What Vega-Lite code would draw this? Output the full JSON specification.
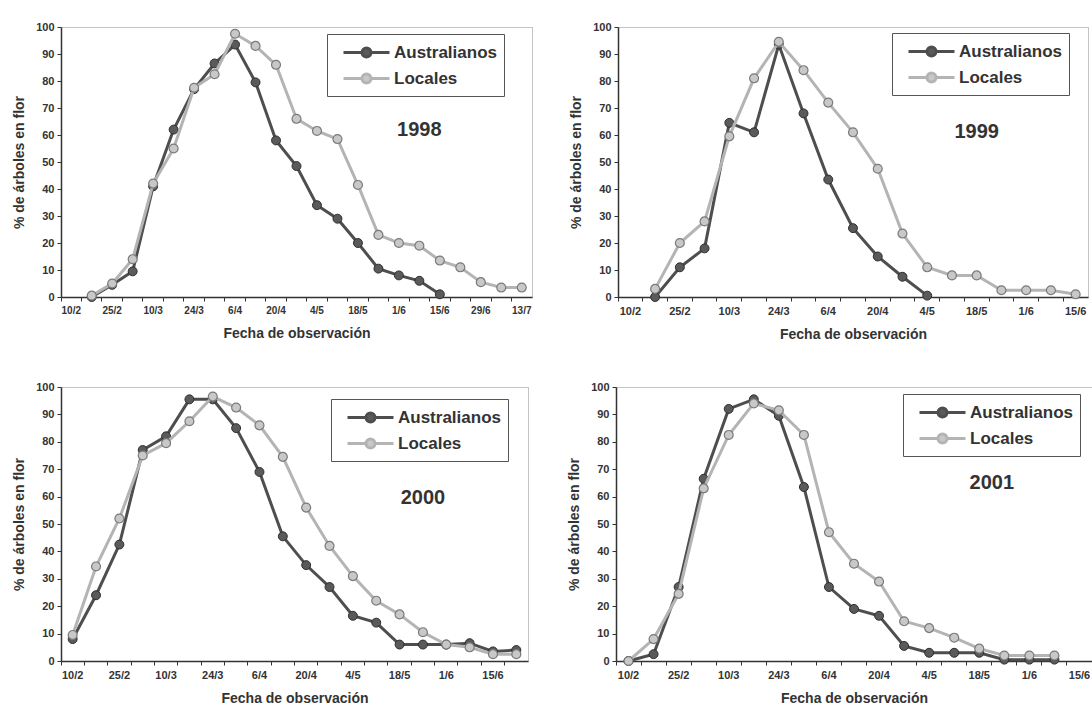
{
  "$schema": "https://vega.github.io/schema/vega-lite/v6.json",
  "background": "white",
  "padding": {"left": 12, "top": 20, "right": 2, "bottom": 2},
  "datasets": {
    "d1998": [
      {"fecha": "17/2", "serie": "Australianos", "pct": 0},
      {"fecha": "25/2", "serie": "Australianos", "pct": 4.5},
      {"fecha": "3/3", "serie": "Australianos", "pct": 9.5},
      {"fecha": "10/3", "serie": "Australianos", "pct": 41},
      {"fecha": "17/3", "serie": "Australianos", "pct": 62},
      {"fecha": "24/3", "serie": "Australianos", "pct": 77},
      {"fecha": "31/3", "serie": "Australianos", "pct": 86.5},
      {"fecha": "6/4", "serie": "Australianos", "pct": 93.5},
      {"fecha": "13/4", "serie": "Australianos", "pct": 79.5},
      {"fecha": "20/4", "serie": "Australianos", "pct": 58},
      {"fecha": "27/4", "serie": "Australianos", "pct": 48.5},
      {"fecha": "4/5", "serie": "Australianos", "pct": 34},
      {"fecha": "11/5", "serie": "Australianos", "pct": 29},
      {"fecha": "18/5", "serie": "Australianos", "pct": 20},
      {"fecha": "25/5", "serie": "Australianos", "pct": 10.5},
      {"fecha": "1/6", "serie": "Australianos", "pct": 8},
      {"fecha": "8/6", "serie": "Australianos", "pct": 6},
      {"fecha": "15/6", "serie": "Australianos", "pct": 1},
      {"fecha": "17/2", "serie": "Locales", "pct": 0.5},
      {"fecha": "25/2", "serie": "Locales", "pct": 5},
      {"fecha": "3/3", "serie": "Locales", "pct": 14},
      {"fecha": "10/3", "serie": "Locales", "pct": 42},
      {"fecha": "17/3", "serie": "Locales", "pct": 55},
      {"fecha": "24/3", "serie": "Locales", "pct": 77.5},
      {"fecha": "31/3", "serie": "Locales", "pct": 82.5},
      {"fecha": "6/4", "serie": "Locales", "pct": 97.5},
      {"fecha": "13/4", "serie": "Locales", "pct": 93},
      {"fecha": "20/4", "serie": "Locales", "pct": 86},
      {"fecha": "27/4", "serie": "Locales", "pct": 66},
      {"fecha": "4/5", "serie": "Locales", "pct": 61.5},
      {"fecha": "11/5", "serie": "Locales", "pct": 58.5},
      {"fecha": "18/5", "serie": "Locales", "pct": 41.5},
      {"fecha": "25/5", "serie": "Locales", "pct": 23},
      {"fecha": "1/6", "serie": "Locales", "pct": 20},
      {"fecha": "8/6", "serie": "Locales", "pct": 19},
      {"fecha": "15/6", "serie": "Locales", "pct": 13.5},
      {"fecha": "22/6", "serie": "Locales", "pct": 11},
      {"fecha": "29/6", "serie": "Locales", "pct": 5.5},
      {"fecha": "6/7", "serie": "Locales", "pct": 3.5},
      {"fecha": "13/7", "serie": "Locales", "pct": 3.5}
    ],
    "d1999": [
      {"fecha": "17/2", "serie": "Australianos", "pct": 0},
      {"fecha": "25/2", "serie": "Australianos", "pct": 11},
      {"fecha": "3/3", "serie": "Australianos", "pct": 18},
      {"fecha": "10/3", "serie": "Australianos", "pct": 64.5},
      {"fecha": "17/3", "serie": "Australianos", "pct": 61},
      {"fecha": "24/3", "serie": "Australianos", "pct": 93.5},
      {"fecha": "31/3", "serie": "Australianos", "pct": 68},
      {"fecha": "6/4", "serie": "Australianos", "pct": 43.5},
      {"fecha": "13/4", "serie": "Australianos", "pct": 25.5},
      {"fecha": "20/4", "serie": "Australianos", "pct": 15},
      {"fecha": "27/4", "serie": "Australianos", "pct": 7.5},
      {"fecha": "4/5", "serie": "Australianos", "pct": 0.5},
      {"fecha": "17/2", "serie": "Locales", "pct": 3},
      {"fecha": "25/2", "serie": "Locales", "pct": 20},
      {"fecha": "3/3", "serie": "Locales", "pct": 28},
      {"fecha": "10/3", "serie": "Locales", "pct": 59.5},
      {"fecha": "17/3", "serie": "Locales", "pct": 81},
      {"fecha": "24/3", "serie": "Locales", "pct": 94.5},
      {"fecha": "31/3", "serie": "Locales", "pct": 84},
      {"fecha": "6/4", "serie": "Locales", "pct": 72},
      {"fecha": "13/4", "serie": "Locales", "pct": 61},
      {"fecha": "20/4", "serie": "Locales", "pct": 47.5},
      {"fecha": "27/4", "serie": "Locales", "pct": 23.5},
      {"fecha": "4/5", "serie": "Locales", "pct": 11},
      {"fecha": "11/5", "serie": "Locales", "pct": 8},
      {"fecha": "18/5", "serie": "Locales", "pct": 8},
      {"fecha": "25/5", "serie": "Locales", "pct": 2.5},
      {"fecha": "1/6", "serie": "Locales", "pct": 2.5},
      {"fecha": "8/6", "serie": "Locales", "pct": 2.5},
      {"fecha": "15/6", "serie": "Locales", "pct": 1}
    ],
    "d2000": [
      {"fecha": "10/2", "serie": "Australianos", "pct": 8},
      {"fecha": "17/2", "serie": "Australianos", "pct": 24},
      {"fecha": "25/2", "serie": "Australianos", "pct": 42.5},
      {"fecha": "3/3", "serie": "Australianos", "pct": 77},
      {"fecha": "10/3", "serie": "Australianos", "pct": 82},
      {"fecha": "17/3", "serie": "Australianos", "pct": 95.5},
      {"fecha": "24/3", "serie": "Australianos", "pct": 95.5},
      {"fecha": "31/3", "serie": "Australianos", "pct": 85},
      {"fecha": "6/4", "serie": "Australianos", "pct": 69},
      {"fecha": "13/4", "serie": "Australianos", "pct": 45.5},
      {"fecha": "20/4", "serie": "Australianos", "pct": 35},
      {"fecha": "27/4", "serie": "Australianos", "pct": 27},
      {"fecha": "4/5", "serie": "Australianos", "pct": 16.5},
      {"fecha": "11/5", "serie": "Australianos", "pct": 14},
      {"fecha": "18/5", "serie": "Australianos", "pct": 6},
      {"fecha": "25/5", "serie": "Australianos", "pct": 6},
      {"fecha": "1/6", "serie": "Australianos", "pct": 6},
      {"fecha": "8/6", "serie": "Australianos", "pct": 6.5},
      {"fecha": "15/6", "serie": "Australianos", "pct": 3.5},
      {"fecha": "22/6", "serie": "Australianos", "pct": 4},
      {"fecha": "10/2", "serie": "Locales", "pct": 9.5},
      {"fecha": "17/2", "serie": "Locales", "pct": 34.5},
      {"fecha": "25/2", "serie": "Locales", "pct": 52},
      {"fecha": "3/3", "serie": "Locales", "pct": 75},
      {"fecha": "10/3", "serie": "Locales", "pct": 79.5},
      {"fecha": "17/3", "serie": "Locales", "pct": 87.5},
      {"fecha": "24/3", "serie": "Locales", "pct": 96.5},
      {"fecha": "31/3", "serie": "Locales", "pct": 92.5},
      {"fecha": "6/4", "serie": "Locales", "pct": 86},
      {"fecha": "13/4", "serie": "Locales", "pct": 74.5},
      {"fecha": "20/4", "serie": "Locales", "pct": 56},
      {"fecha": "27/4", "serie": "Locales", "pct": 42},
      {"fecha": "4/5", "serie": "Locales", "pct": 31},
      {"fecha": "11/5", "serie": "Locales", "pct": 22},
      {"fecha": "18/5", "serie": "Locales", "pct": 17},
      {"fecha": "25/5", "serie": "Locales", "pct": 10.5},
      {"fecha": "1/6", "serie": "Locales", "pct": 6},
      {"fecha": "8/6", "serie": "Locales", "pct": 5},
      {"fecha": "15/6", "serie": "Locales", "pct": 2.5},
      {"fecha": "22/6", "serie": "Locales", "pct": 2.5}
    ],
    "d2001": [
      {"fecha": "10/2", "serie": "Australianos", "pct": 0},
      {"fecha": "17/2", "serie": "Australianos", "pct": 2.5},
      {"fecha": "25/2", "serie": "Australianos", "pct": 27},
      {"fecha": "3/3", "serie": "Australianos", "pct": 66.5},
      {"fecha": "10/3", "serie": "Australianos", "pct": 92},
      {"fecha": "17/3", "serie": "Australianos", "pct": 95.5},
      {"fecha": "24/3", "serie": "Australianos", "pct": 89.5},
      {"fecha": "31/3", "serie": "Australianos", "pct": 63.5},
      {"fecha": "6/4", "serie": "Australianos", "pct": 27},
      {"fecha": "13/4", "serie": "Australianos", "pct": 19},
      {"fecha": "20/4", "serie": "Australianos", "pct": 16.5},
      {"fecha": "27/4", "serie": "Australianos", "pct": 5.5},
      {"fecha": "4/5", "serie": "Australianos", "pct": 3},
      {"fecha": "11/5", "serie": "Australianos", "pct": 3},
      {"fecha": "18/5", "serie": "Australianos", "pct": 3},
      {"fecha": "25/5", "serie": "Australianos", "pct": 0.5},
      {"fecha": "1/6", "serie": "Australianos", "pct": 0.5},
      {"fecha": "8/6", "serie": "Australianos", "pct": 0.5},
      {"fecha": "10/2", "serie": "Locales", "pct": 0},
      {"fecha": "17/2", "serie": "Locales", "pct": 8},
      {"fecha": "25/2", "serie": "Locales", "pct": 24.5},
      {"fecha": "3/3", "serie": "Locales", "pct": 63},
      {"fecha": "10/3", "serie": "Locales", "pct": 82.5},
      {"fecha": "17/3", "serie": "Locales", "pct": 94},
      {"fecha": "24/3", "serie": "Locales", "pct": 91.5},
      {"fecha": "31/3", "serie": "Locales", "pct": 82.5},
      {"fecha": "6/4", "serie": "Locales", "pct": 47},
      {"fecha": "13/4", "serie": "Locales", "pct": 35.5},
      {"fecha": "20/4", "serie": "Locales", "pct": 29},
      {"fecha": "27/4", "serie": "Locales", "pct": 14.5},
      {"fecha": "4/5", "serie": "Locales", "pct": 12},
      {"fecha": "11/5", "serie": "Locales", "pct": 8.5},
      {"fecha": "18/5", "serie": "Locales", "pct": 4.5},
      {"fecha": "25/5", "serie": "Locales", "pct": 2},
      {"fecha": "1/6", "serie": "Locales", "pct": 2},
      {"fecha": "8/6", "serie": "Locales", "pct": 2}
    ]
  },
  "resolve": {"scale": {"stroke": "independent", "fill": "independent"}, "legend": {"stroke": "independent", "fill": "independent"}},
  "spacing": 38,
  "vconcat": [
    {
      "spacing": 36,
      "resolve": {"scale": {"stroke": "independent", "fill": "independent"}, "legend": {"stroke": "independent", "fill": "independent"}},
      "hconcat": [
        {
          "width": 471, "height": 270,
          "data": {"name": "d1998"},
          "encoding": {
            "x": {"field": "fecha", "type": "ordinal", "bandPosition": 0.5,
              "scale": {"type": "band", "paddingInner": 0, "paddingOuter": 0,
                "domain": ["10/2","17/2","25/2","3/3","10/3","17/3","24/3","31/3","6/4","13/4","20/4","27/4","4/5","11/5","18/5","25/5","1/6","8/6","15/6","22/6","29/6","6/7","13/7"]},
              "axis": {"title": "Fecha de observación", "bandPosition": 0, "labelFontSize": 10,
                "labelExpr": "indexof(['10/2','25/2','10/3','24/3','6/4','20/4','4/5','18/5','1/6','15/6','29/6','13/7'], datum.label) >= 0 ? datum.label : ''"}},
            "y": {"field": "pct", "type": "quantitative", "scale": {"domain": [0, 100], "nice": false},
              "axis": {"title": "% de árboles en flor", "values": [0,10,20,30,40,50,60,70,80,90,100]}}
          },
          "layer": [
            {"transform": [{"filter": "datum.serie === 'Australianos'"}],
              "mark": {"type": "line", "strokeWidth": 3},
              "encoding": {"stroke": {"field": "serie", "type": "nominal", "scale": {"domain": ["Australianos","Locales"], "range": ["#4e4e4e","#b4b4b4"]}, "legend": {"title": null, "orient": "none", "legendX": 266, "legendY": 7}}}},
            {"transform": [{"filter": "datum.serie === 'Australianos'"}],
              "mark": {"type": "point", "filled": true, "size": 80, "stroke": "#2e2e2e", "strokeWidth": 1, "opacity": 1},
              "encoding": {"fill": {"field": "serie", "type": "nominal", "scale": {"domain": ["Australianos","Locales"], "range": ["#5a5a5a","#c8c8c8"]}, "legend": {"title": null, "orient": "none", "legendX": 266, "legendY": 7}}}},
            {"transform": [{"filter": "datum.serie === 'Locales'"}],
              "mark": {"type": "line", "strokeWidth": 3},
              "encoding": {"stroke": {"field": "serie", "type": "nominal", "scale": {"domain": ["Australianos","Locales"], "range": ["#4e4e4e","#b4b4b4"]}, "legend": {"title": null, "orient": "none", "legendX": 266, "legendY": 7}}}},
            {"transform": [{"filter": "datum.serie === 'Locales'"}],
              "mark": {"type": "point", "filled": true, "size": 80, "stroke": "#7a7a7a", "strokeWidth": 1.2, "opacity": 1},
              "encoding": {"fill": {"field": "serie", "type": "nominal", "scale": {"domain": ["Australianos","Locales"], "range": ["#5a5a5a","#c8c8c8"]}, "legend": {"title": null, "orient": "none", "legendX": 266, "legendY": 7}}}},
            {"data": {"values": [{"anio": "1998", "pos": "8/6", "nivel": 62}]},
              "mark": {"type": "text", "fontSize": 20, "fontWeight": "bold", "fill": "#333333", "align": "center", "baseline": "middle"},
              "encoding": {"x": {"field": "pos", "type": "ordinal", "bandPosition": 0.5}, "y": {"field": "nivel", "type": "quantitative"}, "text": {"field": "anio", "type": "nominal"}}}
          ]
        },
        {
          "width": 470, "height": 270,
          "data": {"name": "d1999"},
          "encoding": {
            "x": {"field": "fecha", "type": "ordinal", "bandPosition": 0.5,
              "scale": {"type": "band", "paddingInner": 0, "paddingOuter": 0,
                "domain": ["10/2","17/2","25/2","3/3","10/3","17/3","24/3","31/3","6/4","13/4","20/4","27/4","4/5","11/5","18/5","25/5","1/6","8/6","15/6"]},
              "axis": {"title": "Fecha de observación", "bandPosition": 0,
                "labelExpr": "indexof(['10/2','25/2','10/3','24/3','6/4','20/4','4/5','18/5','1/6','15/6','29/6','13/7'], datum.label) >= 0 ? datum.label : ''"}},
            "y": {"field": "pct", "type": "quantitative", "scale": {"domain": [0, 100], "nice": false},
              "axis": {"title": "% de árboles en flor", "values": [0,10,20,30,40,50,60,70,80,90,100]}}
          },
          "layer": [
            {"transform": [{"filter": "datum.serie === 'Australianos'"}],
              "mark": {"type": "line", "strokeWidth": 3},
              "encoding": {"stroke": {"field": "serie", "type": "nominal", "scale": {"domain": ["Australianos","Locales"], "range": ["#4e4e4e","#b4b4b4"]}, "legend": {"title": null, "orient": "none", "legendX": 274, "legendY": 6}}}},
            {"transform": [{"filter": "datum.serie === 'Australianos'"}],
              "mark": {"type": "point", "filled": true, "size": 80, "stroke": "#2e2e2e", "strokeWidth": 1, "opacity": 1},
              "encoding": {"fill": {"field": "serie", "type": "nominal", "scale": {"domain": ["Australianos","Locales"], "range": ["#5a5a5a","#c8c8c8"]}, "legend": {"title": null, "orient": "none", "legendX": 274, "legendY": 6}}}},
            {"transform": [{"filter": "datum.serie === 'Locales'"}],
              "mark": {"type": "line", "strokeWidth": 3},
              "encoding": {"stroke": {"field": "serie", "type": "nominal", "scale": {"domain": ["Australianos","Locales"], "range": ["#4e4e4e","#b4b4b4"]}, "legend": {"title": null, "orient": "none", "legendX": 274, "legendY": 6}}}},
            {"transform": [{"filter": "datum.serie === 'Locales'"}],
              "mark": {"type": "point", "filled": true, "size": 80, "stroke": "#7a7a7a", "strokeWidth": 1.2, "opacity": 1},
              "encoding": {"fill": {"field": "serie", "type": "nominal", "scale": {"domain": ["Australianos","Locales"], "range": ["#5a5a5a","#c8c8c8"]}, "legend": {"title": null, "orient": "none", "legendX": 274, "legendY": 6}}}},
            {"data": {"values": [{"anio": "1999", "pos": "18/5", "nivel": 61}]},
              "mark": {"type": "text", "fontSize": 20, "fontWeight": "bold", "fill": "#333333", "align": "center", "baseline": "middle"},
              "encoding": {"x": {"field": "pos", "type": "ordinal", "bandPosition": 0.5}, "y": {"field": "nivel", "type": "quantitative"}, "text": {"field": "anio", "type": "nominal"}}}
          ]
        }
      ]
    },
    {
      "spacing": 38,
      "resolve": {"scale": {"stroke": "independent", "fill": "independent"}, "legend": {"stroke": "independent", "fill": "independent"}},
      "hconcat": [
        {
          "width": 467, "height": 274,
          "data": {"name": "d2000"},
          "encoding": {
            "x": {"field": "fecha", "type": "ordinal", "bandPosition": 0.5,
              "scale": {"type": "band", "paddingInner": 0, "paddingOuter": 0,
                "domain": ["10/2","17/2","25/2","3/3","10/3","17/3","24/3","31/3","6/4","13/4","20/4","27/4","4/5","11/5","18/5","25/5","1/6","8/6","15/6","22/6"]},
              "axis": {"title": "Fecha de observación", "bandPosition": 0,
                "labelExpr": "indexof(['10/2','25/2','10/3','24/3','6/4','20/4','4/5','18/5','1/6','15/6','29/6','13/7'], datum.label) >= 0 ? datum.label : ''"}},
            "y": {"field": "pct", "type": "quantitative", "scale": {"domain": [0, 100], "nice": false},
              "axis": {"title": "% de árboles en flor", "values": [0,10,20,30,40,50,60,70,80,90,100]}}
          },
          "layer": [
            {"transform": [{"filter": "datum.serie === 'Australianos'"}],
              "mark": {"type": "line", "strokeWidth": 3},
              "encoding": {"stroke": {"field": "serie", "type": "nominal", "scale": {"domain": ["Australianos","Locales"], "range": ["#4e4e4e","#b4b4b4"]}, "legend": {"title": null, "orient": "none", "legendX": 270, "legendY": 12}}}},
            {"transform": [{"filter": "datum.serie === 'Australianos'"}],
              "mark": {"type": "point", "filled": true, "size": 80, "stroke": "#2e2e2e", "strokeWidth": 1, "opacity": 1},
              "encoding": {"fill": {"field": "serie", "type": "nominal", "scale": {"domain": ["Australianos","Locales"], "range": ["#5a5a5a","#c8c8c8"]}, "legend": {"title": null, "orient": "none", "legendX": 270, "legendY": 12}}}},
            {"transform": [{"filter": "datum.serie === 'Locales'"}],
              "mark": {"type": "line", "strokeWidth": 3},
              "encoding": {"stroke": {"field": "serie", "type": "nominal", "scale": {"domain": ["Australianos","Locales"], "range": ["#4e4e4e","#b4b4b4"]}, "legend": {"title": null, "orient": "none", "legendX": 270, "legendY": 12}}}},
            {"transform": [{"filter": "datum.serie === 'Locales'"}],
              "mark": {"type": "point", "filled": true, "size": 80, "stroke": "#7a7a7a", "strokeWidth": 1.2, "opacity": 1},
              "encoding": {"fill": {"field": "serie", "type": "nominal", "scale": {"domain": ["Australianos","Locales"], "range": ["#5a5a5a","#c8c8c8"]}, "legend": {"title": null, "orient": "none", "legendX": 270, "legendY": 12}}}},
            {"data": {"values": [{"anio": "2000", "pos": "25/5", "nivel": 59.5}]},
              "mark": {"type": "text", "fontSize": 20, "fontWeight": "bold", "fill": "#333333", "align": "center", "baseline": "middle"},
              "encoding": {"x": {"field": "pos", "type": "ordinal", "bandPosition": 0.5}, "y": {"field": "nivel", "type": "quantitative"}, "text": {"field": "anio", "type": "nominal"}}}
          ]
        },
        {
          "width": 476, "height": 274,
          "data": {"name": "d2001"},
          "encoding": {
            "x": {"field": "fecha", "type": "ordinal", "bandPosition": 0.5,
              "scale": {"type": "band", "paddingInner": 0, "paddingOuter": 0,
                "domain": ["10/2","17/2","25/2","3/3","10/3","17/3","24/3","31/3","6/4","13/4","20/4","27/4","4/5","11/5","18/5","25/5","1/6","8/6","15/6"]},
              "axis": {"title": "Fecha de observación", "bandPosition": 0,
                "labelExpr": "indexof(['10/2','25/2','10/3','24/3','6/4','20/4','4/5','18/5','1/6','15/6','29/6','13/7'], datum.label) >= 0 ? datum.label : ''"}},
            "y": {"field": "pct", "type": "quantitative", "scale": {"domain": [0, 100], "nice": false},
              "axis": {"title": "% de árboles en flor", "values": [0,10,20,30,40,50,60,70,80,90,100]}}
          },
          "layer": [
            {"transform": [{"filter": "datum.serie === 'Australianos'"}],
              "mark": {"type": "line", "strokeWidth": 3},
              "encoding": {"stroke": {"field": "serie", "type": "nominal", "scale": {"domain": ["Australianos","Locales"], "range": ["#4e4e4e","#b4b4b4"]}, "legend": {"title": null, "orient": "none", "legendX": 287, "legendY": 7}}}},
            {"transform": [{"filter": "datum.serie === 'Australianos'"}],
              "mark": {"type": "point", "filled": true, "size": 80, "stroke": "#2e2e2e", "strokeWidth": 1, "opacity": 1},
              "encoding": {"fill": {"field": "serie", "type": "nominal", "scale": {"domain": ["Australianos","Locales"], "range": ["#5a5a5a","#c8c8c8"]}, "legend": {"title": null, "orient": "none", "legendX": 287, "legendY": 7}}}},
            {"transform": [{"filter": "datum.serie === 'Locales'"}],
              "mark": {"type": "line", "strokeWidth": 3},
              "encoding": {"stroke": {"field": "serie", "type": "nominal", "scale": {"domain": ["Australianos","Locales"], "range": ["#4e4e4e","#b4b4b4"]}, "legend": {"title": null, "orient": "none", "legendX": 287, "legendY": 7}}}},
            {"transform": [{"filter": "datum.serie === 'Locales'"}],
              "mark": {"type": "point", "filled": true, "size": 80, "stroke": "#7a7a7a", "strokeWidth": 1.2, "opacity": 1},
              "encoding": {"fill": {"field": "serie", "type": "nominal", "scale": {"domain": ["Australianos","Locales"], "range": ["#5a5a5a","#c8c8c8"]}, "legend": {"title": null, "orient": "none", "legendX": 287, "legendY": 7}}}},
            {"data": {"values": [{"anio": "2001", "pos": "18/5", "nivel": 65}]},
              "mark": {"type": "text", "fontSize": 20, "fontWeight": "bold", "fill": "#333333", "align": "center", "baseline": "middle"},
              "encoding": {"x": {"field": "pos", "type": "ordinal", "bandPosition": 1}, "y": {"field": "nivel", "type": "quantitative"}, "text": {"field": "anio", "type": "nominal"}}}
          ]
        }
      ]
    }
  ],
  "config": {
    "font": "Liberation Sans",
    "view": {"stroke": "#8a8a8a", "strokeDash": [1, 1], "strokeWidth": 1},
    "axis": {
      "grid": false,
      "domainColor": "#333333", "domainWidth": 1.5,
      "tickColor": "#333333", "tickSize": 4, "tickWidth": 1,
      "labelFont": "Liberation Sans", "labelFontWeight": "bold", "labelFontSize": 11, "labelColor": "#333333",
      "titleFont": "Liberation Sans", "titleFontWeight": "bold", "titleFontSize": 14, "titleColor": "#333333"
    },
    "axisX": {"labelAngle": 0, "labelPadding": 4, "titlePadding": 11, "labelFlush": false, "labelOverlap": false},
    "axisY": {"labelPadding": 3, "titlePadding": 9},
    "legend": {
      "strokeColor": "#555555", "fillColor": "white", "padding": 7, "cornerRadius": 0,
      "labelFont": "Liberation Sans", "labelFontWeight": "bold", "labelFontSize": 17, "labelColor": "#333333",
      "symbolType": "M-2.3,0L-0.45,0M0.45,0L2.3,0M-0.45,0A0.45,0.45,0,1,1,0.45,0A0.45,0.45,0,1,1,-0.45,0Z",
      "symbolSize": 400, "symbolStrokeWidth": 3, "symbolOffset": 21, "labelOffset": 16, "rowPadding": 4
    }
  }
}
